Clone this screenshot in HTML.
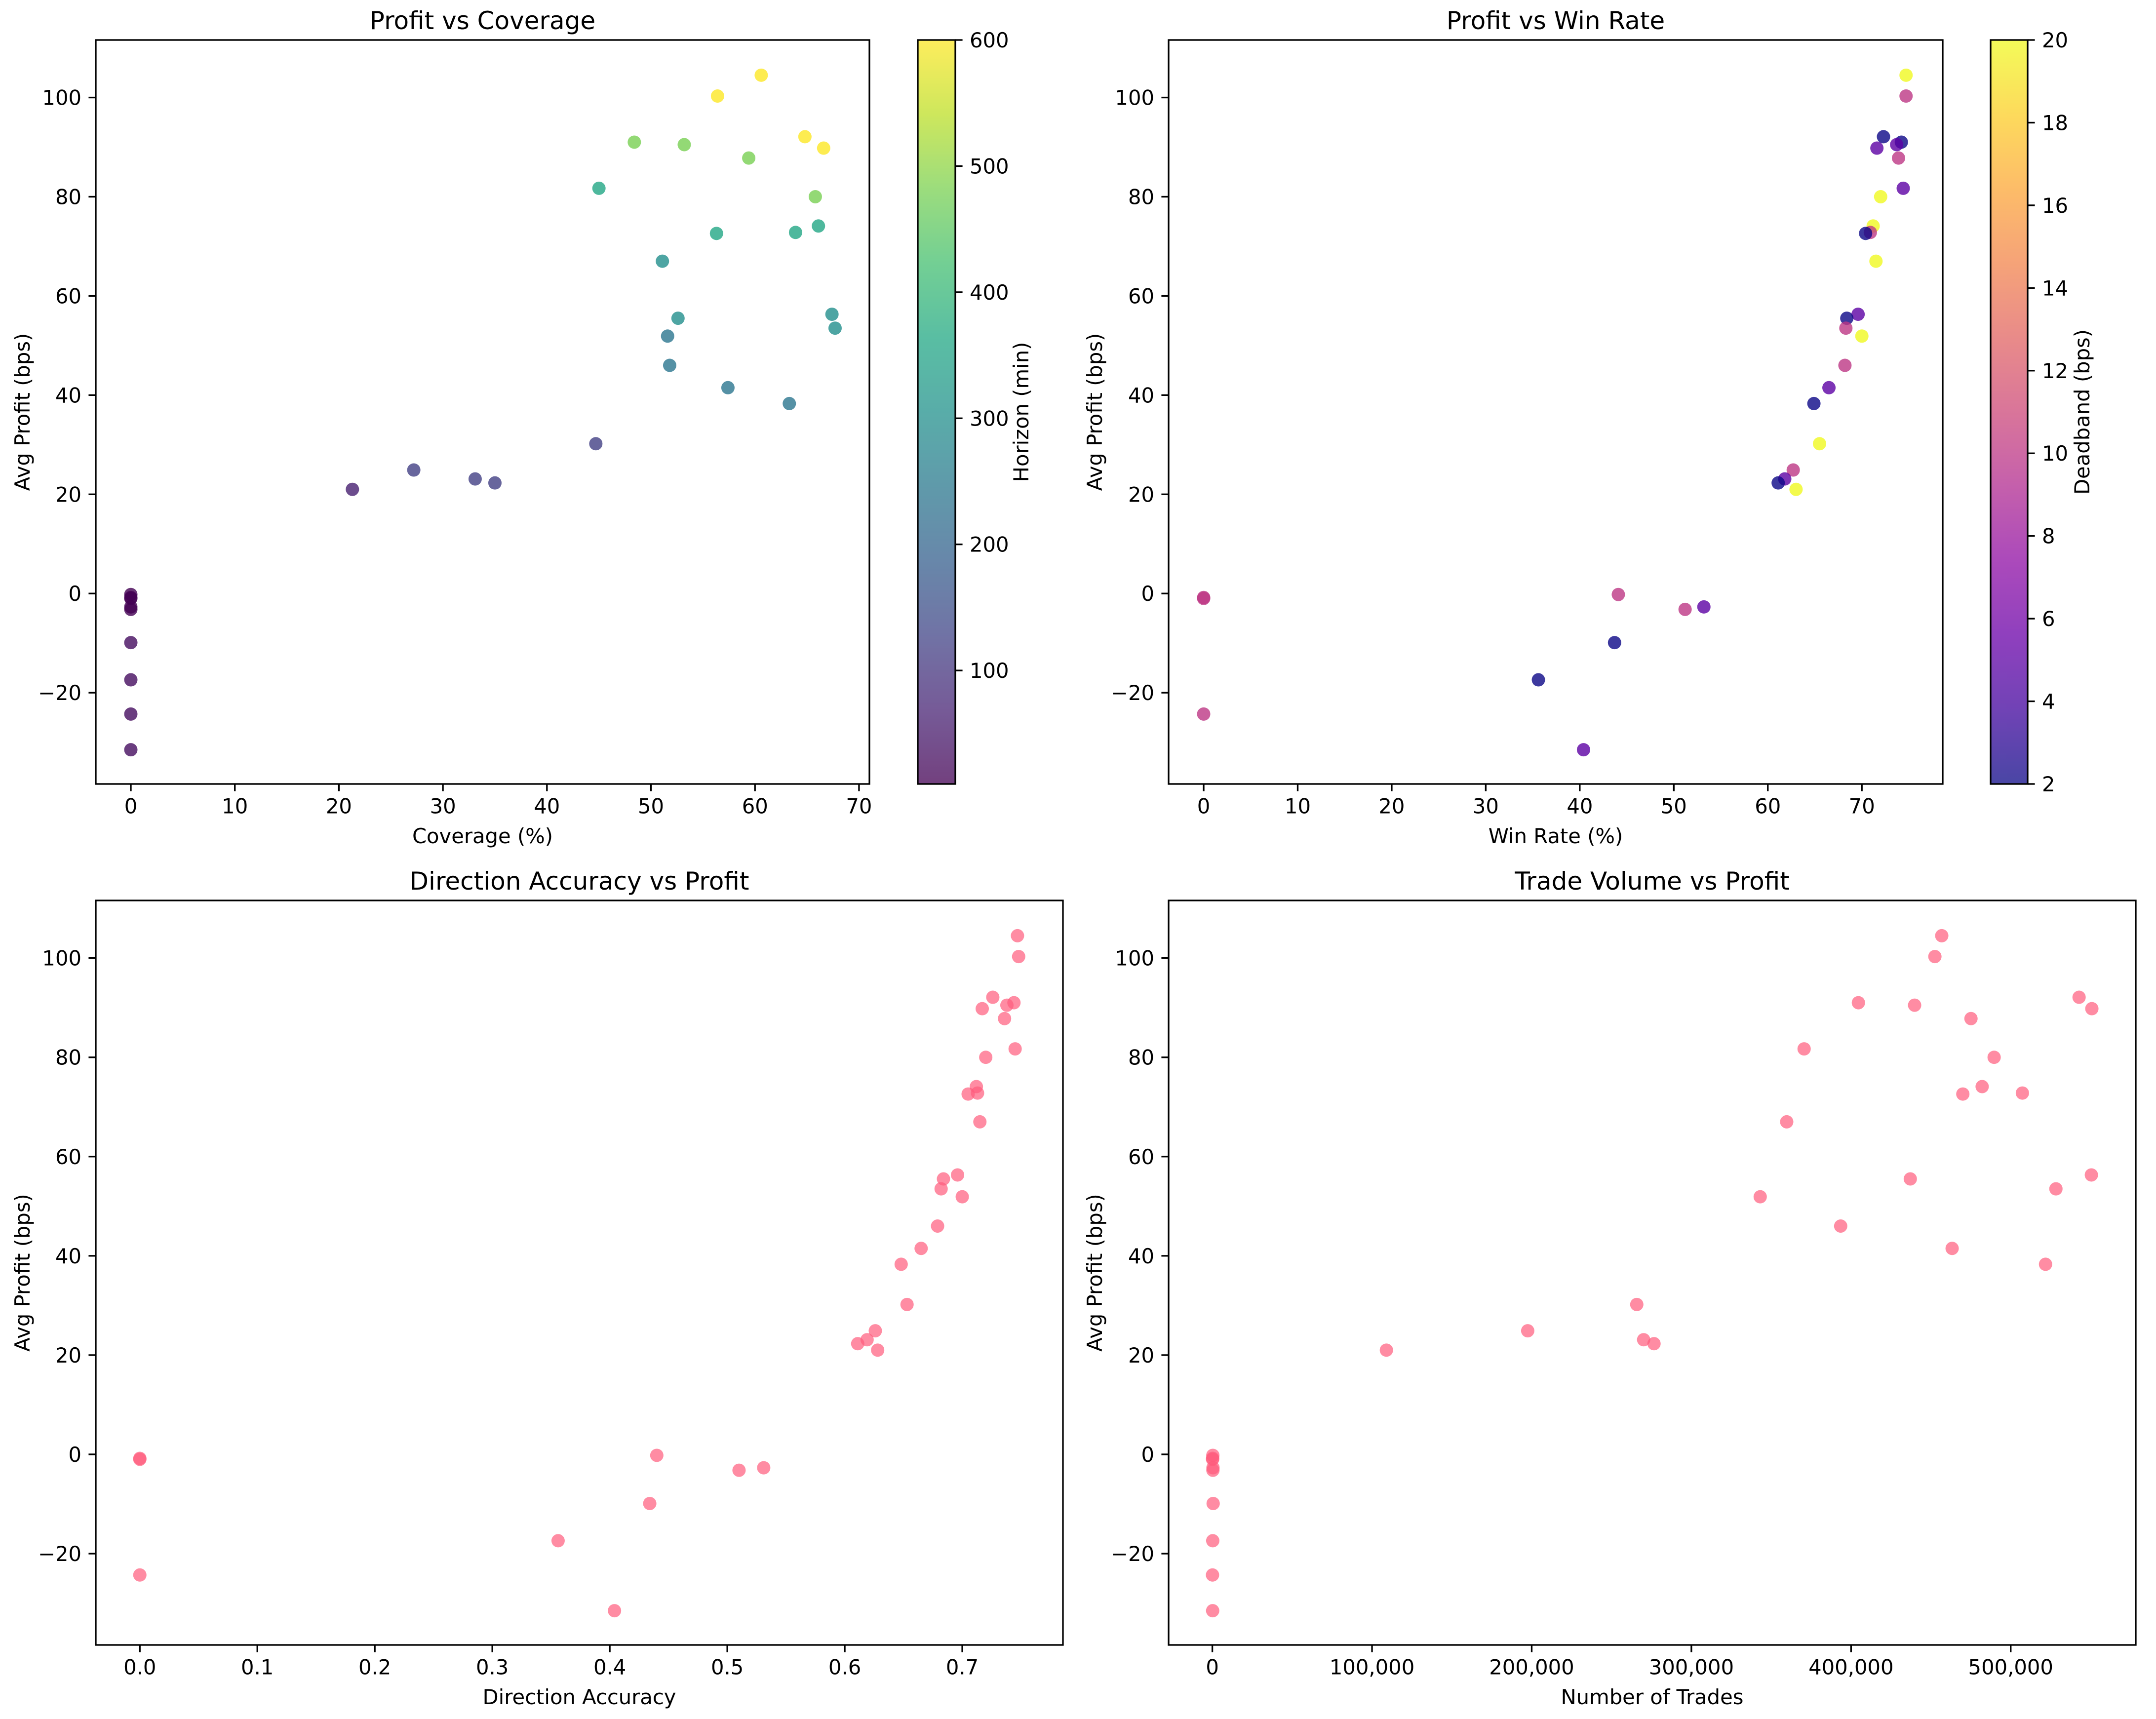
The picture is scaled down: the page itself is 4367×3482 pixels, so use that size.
<!DOCTYPE html>
<html><head><meta charset="utf-8">
<style>
html,body{margin:0;padding:0;background:#fff;}
svg{display:block;font-family:"DejaVu Sans","Liberation Sans",sans-serif;}
</style></head>
<body>
<svg id="fig" width="4367" height="3482" viewBox="0 0 4367 3482" xmlns="http://www.w3.org/2000/svg">
<rect width="4367" height="3482" fill="#fff"/>
<defs>
<linearGradient id="gradViridis" x1="0" y1="1" x2="0" y2="0"></linearGradient>
<linearGradient id="gradPlasma" x1="0" y1="1" x2="0" y2="0"></linearGradient>
</defs>
</svg>
<script>
// ---- data (one entry per configuration) ----
const profit   = [104.5,100.3,92.1,91.0,90.5,89.8,87.8,81.7,80.0,74.1,72.8,72.6,67.0,56.3,55.5,53.5,51.9,46.0,41.5,38.3,30.2,24.9,23.1,22.3,21.0,-0.2,-0.8,-1.0,-2.7,-3.2,-9.9,-17.4,-24.3,-31.5];
const coverage = [60.6,56.4,64.8,48.4,53.2,66.6,59.4,45.0,65.8,66.1,63.9,56.3,51.1,67.4,52.6,67.7,51.6,51.8,57.4,63.3,44.7,27.2,33.1,35.0,21.3,0,0,0,0,0,0,0,0,0];
const winRate  = [74.7,74.7,72.3,74.2,73.7,71.6,73.9,74.4,72.0,71.2,70.9,70.4,71.5,69.6,68.4,68.3,70.0,68.2,66.5,64.9,65.5,62.7,61.8,61.1,63.0,44.1,0,0,53.2,51.2,43.7,35.6,0,40.4];
const accuracy = [0.747,0.748,0.726,0.744,0.738,0.717,0.736,0.745,0.720,0.712,0.713,0.705,0.715,0.696,0.684,0.682,0.700,0.679,0.665,0.648,0.653,0.626,0.619,0.611,0.628,0.440,0,0,0.531,0.510,0.434,0.356,0,0.404];
const trades   = [456800,452500,542800,404600,439800,550800,475100,370600,489600,482100,507300,470000,359700,550500,437100,528300,343100,393500,463300,521800,265800,197500,270100,276600,109000,300,200,150,400,350,500,250,100,200];
const horizon  = [600,600,600,480,480,600,480,360,480,360,360,360,300,300,300,300,240,240,240,240,120,120,120,120,60,10,10,10,10,10,30,30,30,30];
const deadband = [20,10,2,2,5,5,10,5,20,20,10,2,20,5,2,10,20,10,5,2,20,10,5,2,20,10,10,10,5,10,2,2,10,5];
// ---- tick labels ----
const yTicks = [-20,0,20,40,60,80,100];
const covTicks = [0,10,20,30,40,50,60,70];
const wrTicks = [0,10,20,30,40,50,60,70];
const accTicks = [0.0,0.1,0.2,0.3,0.4,0.5,0.6,0.7];
const tradeTicks = [0,100000,200000,300000,400000,500000];
const horizonTicks = [100,200,300,400,500,600];
const deadbandTicks = [2,4,6,8,10,12,14,16,18,20];

const NS="http://www.w3.org/2000/svg";
const svg=document.getElementById('fig');
function mk(tag,attrs,parent){const e=document.createElementNS(NS,tag);for(const k in attrs)e.setAttribute(k,attrs[k]);(parent||svg).appendChild(e);return e;}

const viridis=[[68,1,84],[72,36,117],[65,68,135],[53,95,141],[42,120,142],[33,145,140],[34,168,132],[68,191,112],[122,209,81],[189,223,38],[253,231,37]];
const plasma=[[13,8,135],[65,4,157],[106,0,168],[143,13,164],[177,42,144],[204,71,120],[225,100,98],[242,132,75],[252,166,54],[252,206,37],[240,249,33]];
function cmap(stops,t){t=Math.max(0,Math.min(1,t));const p=t*(stops.length-1);const i=Math.min(Math.floor(p),stops.length-2);const f=p-i;const a=stops[i],b=stops[i+1];return 'rgb('+a.map((v,k)=>Math.round(v+(b[k]-v)*f)).join(',')+')';}
function fillGrad(id,stops){const g=document.getElementById(id);for(let i=0;i<=20;i++){mk('stop',{offset:(i/20),'stop-color':cmap(stops,i/20),'stop-opacity':0.75},g);}}
fillGrad('gradViridis',viridis);fillGrad('gradPlasma',plasma);

const YLIM=[-38.4,111.6];
const TICK=14.6, FS=41.7, LW=3.3;
function fmtTrade(v){return v.toLocaleString('en-US');}
function fmtAcc(v){return v.toFixed(1);}
function fmtInt(v){return String(v).replace('-','\u2212');}

function panel(o){
  const g=mk('g',{});
  
  
  const sx=v=>o.L+(v-o.xlim[0])/(o.xlim[1]-o.xlim[0])*(o.R-o.L);
  const sy=v=>o.B-(v-YLIM[0])/(YLIM[1]-YLIM[0])*(o.B-o.T);
  const pts=mk('g',{},g);
  
  
  o.xs.forEach((xv,i)=>{
    const c=mk('circle',{cx:sx(xv),cy:sy(profit[i]),r:13.5,fill:o.color(i),'fill-opacity':o.alpha},pts);
    
    
  });
  const fr=mk('rect',{x:o.L,y:o.T,width:o.R-o.L,height:o.B-o.T,fill:'none',stroke:'#000','stroke-width':LW},g);
  
  
  o.xticks.forEach(v=>{
    const x=sx(v);
    mk('line',{x1:x,x2:x,y1:o.B,y2:o.B+TICK,stroke:'#000','stroke-width':LW},g);
    const t=mk('text',{x:x,y:o.B+29+30.5,'font-size':FS,'text-anchor':'middle'},g);
    t.textContent=o.xfmt(v);
    
    
  });
  yTicks.forEach(v=>{
    const y=sy(v);
    mk('line',{x1:o.L-TICK,x2:o.L,y1:y,y2:y,stroke:'#000','stroke-width':LW},g);
    const t=mk('text',{x:o.L-29,y:y+15,'font-size':FS,'text-anchor':'end'},g);
    t.textContent=fmtInt(v);
    
    
  });
  const tt=mk('text',{x:(o.L+o.R)/2,y:o.T-22,'font-size':50,'text-anchor':'middle'},g);
  tt.textContent=o.title;
  
  
  const xl=mk('text',{x:(o.L+o.R)/2,y:o.B+120,'font-size':FS,'text-anchor':'middle'},g);
  xl.textContent=o.xlabel;
  
  
  const yc=(o.T+o.B)/2;
  const yl=mk('text',{x:o.ylx,y:yc,'font-size':FS,'text-anchor':'middle',transform:'rotate(-90 '+o.ylx+' '+yc+')'},g);
  yl.textContent='Avg Profit (bps)';
  
  
  if(o.cb){
    const cb=o.cb;
    const cg=mk('g',{},g);
    
    
    mk('rect',{x:cb.L,y:o.T,width:cb.R-cb.L,height:o.B-o.T,fill:'url(#'+cb.grad+')',stroke:'#000','stroke-width':LW},cg);
    const cy=v=>o.B-(v-cb.lim[0])/(cb.lim[1]-cb.lim[0])*(o.B-o.T);
    cb.ticks.forEach(v=>{
      const y=cy(v);
      mk('line',{x1:cb.R,x2:cb.R+TICK,y1:y,y2:y,stroke:'#000','stroke-width':LW},cg);
      const t=mk('text',{x:cb.R+29,y:y+15,'font-size':FS},cg);
      t.textContent=String(v);
      
      
    });
    const cl=mk('text',{x:cb.lx,y:yc,'font-size':FS,'text-anchor':'middle',transform:'rotate(-90 '+cb.lx+' '+yc+')'},cg);
    cl.textContent=cb.label;
    
    
  }
}
const pink=()=>'#ff5b7c';
panel({name:'profit-vs-coverage-panel',L:194,R:1761,T:81,B:1588,xlim:[-3.37,71.0],xs:coverage,xticks:covTicks,xfmt:fmtInt,alpha:0.8,
  title:'Profit vs Coverage',xlabel:'Coverage (%)',ylx:60,color:i=>cmap(viridis,(horizon[i]-10)/590),
  cb:{L:1859,R:1935,lim:[10,600],ticks:horizonTicks,grad:'gradViridis',label:'Horizon (min)',lx:2083}});
panel({name:'profit-vs-winrate-panel',L:2367,R:3935,T:81,B:1588,xlim:[-3.73,78.6],xs:winRate,xticks:wrTicks,xfmt:fmtInt,alpha:0.8,
  title:'Profit vs Win Rate',xlabel:'Win Rate (%)',ylx:2232,color:i=>cmap(plasma,(deadband[i]-2)/18),
  cb:{L:4032,R:4107,lim:[2,20],ticks:deadbandTicks,grad:'gradPlasma',label:'Deadband (bps)',lx:4232}});
panel({name:'accuracy-vs-profit-panel',L:194,R:2153,T:1824,B:3332,xlim:[-0.0375,0.7857],xs:accuracy,xticks:accTicks,xfmt:fmtAcc,alpha:0.7,
  title:'Direction Accuracy vs Profit',xlabel:'Direction Accuracy',ylx:60,color:pink});
panel({name:'trades-vs-profit-panel',L:2367,R:4326,T:1824,B:3332,xlim:[-27400,578300],xs:trades,xticks:tradeTicks,xfmt:fmtTrade,alpha:0.7,
  title:'Trade Volume vs Profit',xlabel:'Number of Trades',ylx:2232,color:pink});
</script>
</body></html>
